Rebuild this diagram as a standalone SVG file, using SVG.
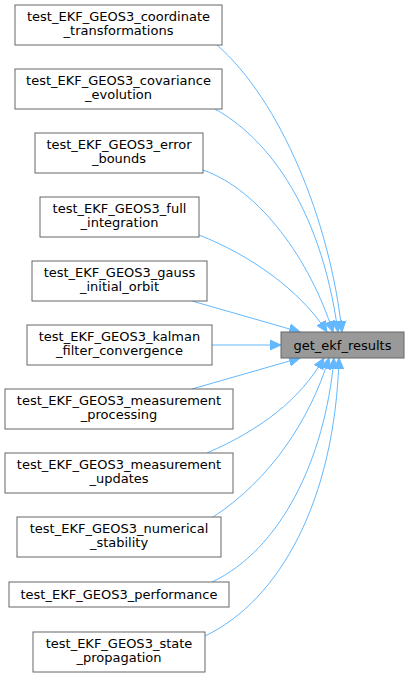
<svg xmlns="http://www.w3.org/2000/svg" width="409" height="677" viewBox="0 0 409 677">
<style>
.n rect{fill:#ffffff;stroke:#666666;stroke-width:1}
.t rect{fill:#999999;stroke:#666666;stroke-width:1}
text{font-family:"DejaVu Sans",sans-serif;font-size:13px;fill:#000000;text-anchor:middle}
.e path{fill:none;stroke:#63b8ff;stroke-width:1;marker-end:url(#ah)}
</style>
<defs>
<marker id="ah" markerUnits="userSpaceOnUse" markerWidth="12" markerHeight="12" refX="11" refY="5" orient="auto" viewBox="0 0 12 10">
<path d="M0,0 L11,5 L0,10 z" fill="#63b8ff" stroke="#63b8ff"/>
</marker>
</defs>
<rect width="409" height="677" fill="#ffffff"/>
<g id="edges" class="e">
<path d="M217,45 C280,100 330,220 342,332"/>
<path d="M215,109 C262,135 320,200 338,332"/>
<path d="M203,170 C260,190 310,260 333,332"/>
<path d="M199,235 C250,255 300,290 327,332"/>
<path d="M192,301 L300,332"/>
<path d="M212,345 L281,345"/>
<path d="M192,389 L300,358"/>
<path d="M207,453 C260,430 300,400 324,358"/>
<path d="M213,517 C270,480 310,420 329,358"/>
<path d="M212,582 C280,550 325,460 334,358"/>
<path d="M205,636 C280,600 335,500 339,358"/>
</g>
<g id="target" class="t"><rect x="281" y="332" width="123" height="26"/><text x="342.5" y="349.5">get_ekf_results</text></g>
<g id="n1" class="n"><rect x="15" y="5" width="207" height="40"/><text x="118.5" y="21">test_EKF_GEOS3_coordinate</text><text x="118.5" y="35">_transformations</text></g>
<g id="n2" class="n"><rect x="15" y="69" width="207" height="40"/><text x="118.5" y="85">test_EKF_GEOS3_covariance</text><text x="118.5" y="99">_evolution</text></g>
<g id="n3" class="n"><rect x="35" y="133" width="168" height="40"/><text x="119" y="149">test_EKF_GEOS3_error</text><text x="119" y="163">_bounds</text></g>
<g id="n4" class="n"><rect x="40" y="197" width="159" height="40"/><text x="119.5" y="213">test_EKF_GEOS3_full</text><text x="119.5" y="227">_integration</text></g>
<g id="n5" class="n"><rect x="32" y="261" width="175" height="40"/><text x="119.5" y="277">test_EKF_GEOS3_gauss</text><text x="119.5" y="291">_initial_orbit</text></g>
<g id="n6" class="n"><rect x="27" y="325" width="185" height="40"/><text x="119.5" y="341">test_EKF_GEOS3_kalman</text><text x="119.5" y="355">_filter_convergence</text></g>
<g id="n7" class="n"><rect x="5" y="389" width="228" height="40"/><text x="119" y="405">test_EKF_GEOS3_measurement</text><text x="119" y="419">_processing</text></g>
<g id="n8" class="n"><rect x="5" y="453" width="228" height="40"/><text x="119" y="469">test_EKF_GEOS3_measurement</text><text x="119" y="483">_updates</text></g>
<g id="n9" class="n"><rect x="17" y="517" width="204" height="40"/><text x="119" y="533">test_EKF_GEOS3_numerical</text><text x="119" y="547">_stability</text></g>
<g id="n10" class="n"><rect x="9" y="582" width="220" height="25"/><text x="119" y="599">test_EKF_GEOS3_performance</text></g>
<g id="n11" class="n"><rect x="33" y="632" width="172" height="40"/><text x="119" y="648">test_EKF_GEOS3_state</text><text x="119" y="662">_propagation</text></g>
</svg>
